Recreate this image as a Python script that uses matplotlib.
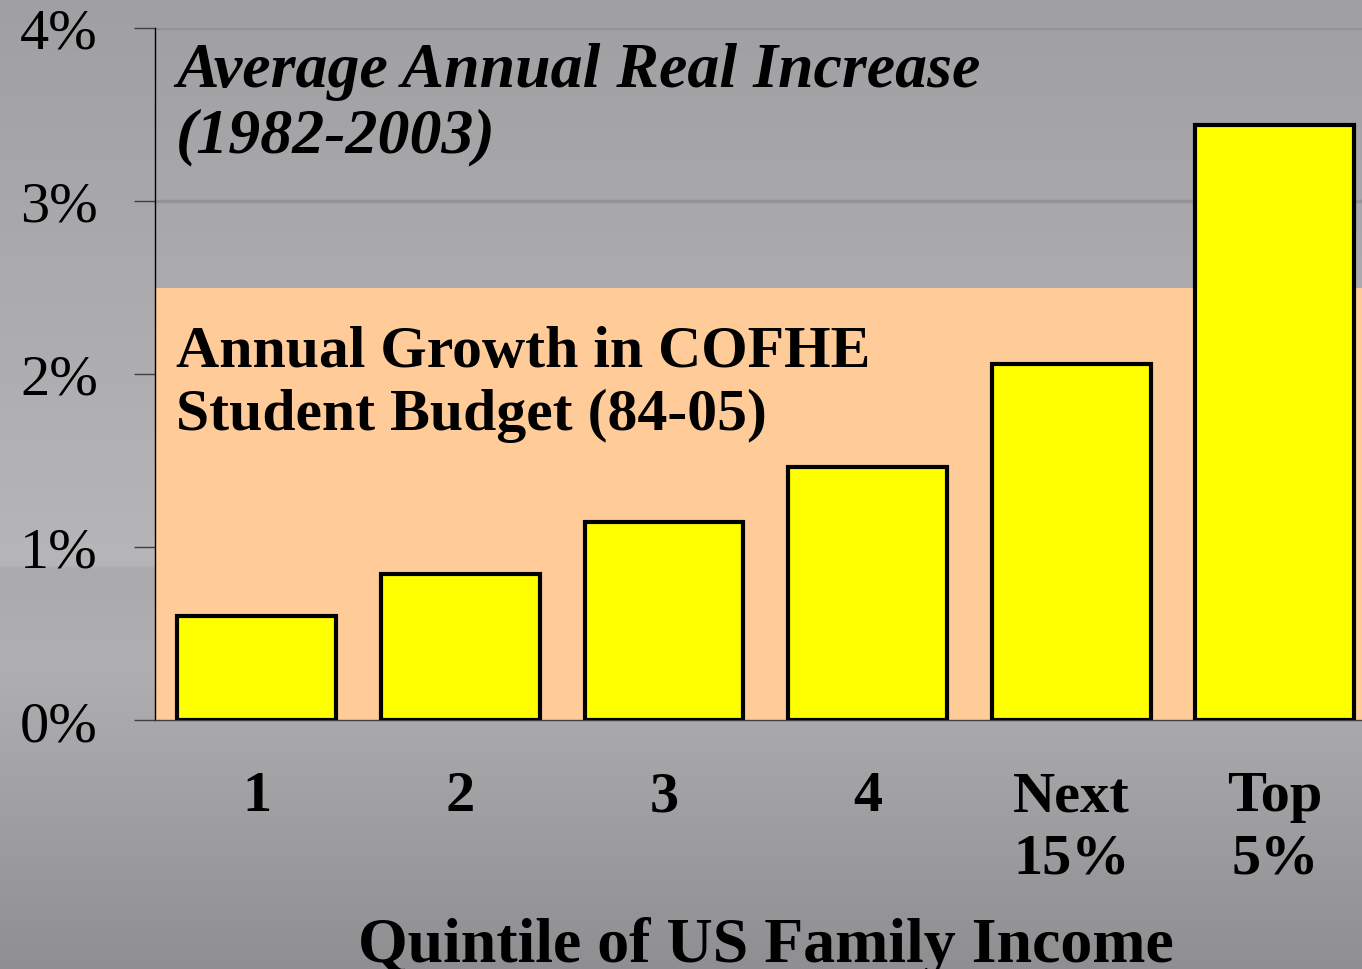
import numpy as np
import matplotlib
matplotlib.use("Agg")
import matplotlib.pyplot as plt

categories = ["1", "2", "3", "4", "Next\n15%", "Top\n5%"]
values = [0.60, 0.845, 1.145, 1.465, 2.055, 3.44]
budget_growth = 2.5
yticks = [0, 1, 2, 3, 4]
ytick_labels = ["0%", "1%", "2%", "3%", "4%"]

plt.rcParams['font.family'] = ['Liberation Serif', 'DejaVu Serif']

W, H = 1362, 970
fig = plt.figure(figsize=(W / 100, H / 100), dpi=100)

# background gradient
bg = fig.add_axes([0, 0, 1, 1], zorder=-10)
rows = np.arange(H)
stops_y = [0, 565, 570, 660, 969]
stops_v = [160, 182, 170, 176, 143]
v = np.interp(rows, stops_y, stops_v) / 255.0
img = np.dstack([v, v, v + 0.012]).reshape(H, 1, 3)
img = np.clip(img, 0, 1)
bg.imshow(img, aspect='auto', extent=[0, 1, 0, 1], origin='upper')
bg.set_axis_off()

ax = fig.add_axes([155 / W, (H - 721) / H, 6 * 203.6 / W, 692 / H])
ax.set_facecolor('none')
x = np.arange(len(categories))
ax.axhspan(0, budget_growth, color='#FFCC99', zorder=1, lw=0)
ax.bar(x, values, width=0.78, color='#FFFF00', edgecolor='black', linewidth=3, zorder=3)
ax.set_xlim(-0.5, len(categories) - 0.5)
ax.set_ylim(0, 4)
ax.set_yticks(yticks)
ax.set_yticklabels(ytick_labels, fontsize=42)
ax.set_xticks(x)
ax.set_xticklabels(categories, fontsize=42, fontweight='bold', linespacing=1.25)
ax.tick_params(axis='y', length=15, width=1, color='#404040', pad=26)
ax.tick_params(axis='x', length=0, pad=36)
ax.yaxis.grid(True, color='#939393', linewidth=2.5, zorder=0.5)
ax.set_axisbelow(True)
for s in ['top', 'right']:
    ax.spines[s].set_visible(False)
ax.spines['left'].set_color('black')
ax.spines['left'].set_linewidth(1)
ax.spines['bottom'].set_color('#404040')
ax.spines['bottom'].set_linewidth(1)

fig.text(176 / W, 1 - 87 / H, "Average Annual Real Increase", fontsize=46,
         fontweight='bold', fontstyle='italic', ha='left', va='baseline')
fig.text(176 / W, 1 - 152 / H, "(1982-2003)", fontsize=46,
         fontweight='bold', fontstyle='italic', ha='left', va='baseline')
fig.text(176 / W, 1 - 367 / H, "Annual Growth in COFHE", fontsize=43,
         fontweight='bold', ha='left', va='baseline')
fig.text(176 / W, 1 - 430 / H, "Student Budget (84-05)", fontsize=43,
         fontweight='bold', ha='left', va='baseline')
fig.text(766 / W, 1 - 962 / H, "Quintile of US Family Income", fontsize=46,
         fontweight='bold', ha='center', va='baseline')

fig.savefig("out.png", dpi=100)
